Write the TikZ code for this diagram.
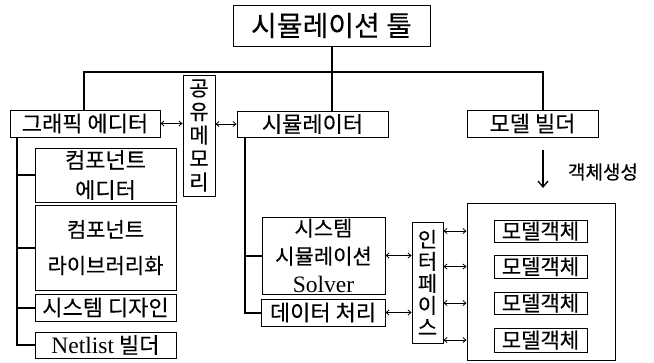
\documentclass[tikz,border=0pt]{standalone}
\usepackage{fontspec}
\newfontfamily\kr[FakeBold=0.25]{Noto Sans CJK KR}
\newfontfamily\lser{Liberation Serif}
\usetikzlibrary{arrows.meta}
\begin{document}
\begin{tikzpicture}[x=1pt,y=-1pt,
 box/.style={draw, line width=0.9pt, inner sep=0pt, align=center, font=\kr\fontsize{22}{24}\selectfont},
 tree/.style={line width=2pt},
 dbl/.style={line width=0.8pt, {Straight Barb[length=3pt,width=5pt]}-{Straight Barb[length=3pt,width=5pt]}},
]
\useasboundingbox (0,0) rectangle (654,362);
\node[box, minimum width=197pt, minimum height=41pt, font=\kr\fontsize{28}{30}\selectfont] (tool) at (331.5,25.5) {시뮬레이션 툴};
\node[box, minimum width=150pt, minimum height=27pt] (gedit) at (85,123.5) {그래픽 에디터};
\node[box, minimum width=32pt, minimum height=121pt, font=\kr\fontsize{21}{23.5}\selectfont] (shm) at (199,135.5) {공\\유\\메\\모\\리};
\node[box, minimum width=151pt, minimum height=26pt] (sim) at (312.5,124) {시뮬레이터};
\node[box, minimum width=131pt, minimum height=27pt] (mb) at (532.5,123.5) {모델 빌더};
\node[box, minimum width=141pt, minimum height=54pt, font=\kr\fontsize{22}{30}\selectfont] (ce) at (105.5,175) {컴포넌트\\에디터};
\node[box, minimum width=141pt, minimum height=85pt, font=\kr\fontsize{21}{36}\selectfont] (cl) at (105.5,247.5) {컴포넌트\\라이브러리화};
\node[box, minimum width=141pt, minimum height=27pt] (sd) at (105.5,307.5) {시스템 디자인};
\node[box, minimum width=141pt, minimum height=26pt] (nl) at (105.5,345) {{\lser\fontsize{23.5}{24}\selectfont Netlist} 빌더};
\node[box, minimum width=123pt, minimum height=77pt, font=\kr\fontsize{21}{28}\selectfont] (solver) at (323.5,255.5) {시스템\\시뮬레이션\\{\lser\fontsize{23.5}{28}\selectfont Solver}};
\node[box, minimum width=124pt, minimum height=27pt] (data) at (323,312.5) {데이터 처리};
\node[box, minimum width=31pt, minimum height=121pt, font=\kr\fontsize{21}{22}\selectfont] (intf) at (427.5,282.5) {인\\터\\페\\이\\스};
\node[box, minimum width=148pt, minimum height=157pt] (big) at (541,281.5) {};
\node[box, minimum width=93pt, minimum height=22pt, font=\kr\fontsize{21}{22}\selectfont] (mo1) at (540.5,231) {모델객체};
\node[box, minimum width=93pt, minimum height=23pt, font=\kr\fontsize{21}{22}\selectfont] (mo2) at (540.5,266.5) {모델객체};
\node[box, minimum width=93pt, minimum height=22pt, font=\kr\fontsize{21}{22}\selectfont] (mo3) at (540.5,303) {모델객체};
\node[box, minimum width=93pt, minimum height=24pt, font=\kr\fontsize{21}{22}\selectfont] (mo4) at (540.5,340) {모델객체};
\node[font=\kr\fontsize{19}{20}\selectfont, inner sep=0pt] (lbl) at (603,172) {객체생성};
% tree lines
\coordinate (j1) at (84,72);
\coordinate (j2) at (543,72);
\draw[tree] (j1 |- gedit.north) -- (j1) -- (j2) -- (j2 |- mb.north);
\draw[tree] (tool.south) -- (tool.south |- sim.north);
\coordinate (lx) at (17,0);
\draw[tree] (lx |- gedit.south) |- (nl.west);
\foreach \n in {ce,cl,sd} \draw[tree] (lx |- \n.west) -- (\n.west);
\coordinate (sx) at (245,0);
\draw[tree] (sx |- sim.south) |- (data.west);
\draw[tree] (sx |- solver.west) -- (solver.west);
% arrows
\draw[dbl] (gedit.east) -- (gedit.east -| shm.west);
\draw[dbl] (shm.east |- sim.west) -- (sim.west);
\draw[dbl] (solver.east) -- (solver.east -| intf.west);
\draw[dbl] (data.east) -- (data.east -| intf.west);
\foreach \n in {mo1,mo2,mo3,mo4} \draw[dbl] (intf.east |- \n.west) -- (big.west |- \n.west);
\coordinate (a1) at (543,150);
\coordinate (a2) at (543,188);
\draw[line width=1.3pt, -{Straight Barb[length=6pt,width=10pt]}] (a1) -- (a2);
\end{tikzpicture}
\end{document}
